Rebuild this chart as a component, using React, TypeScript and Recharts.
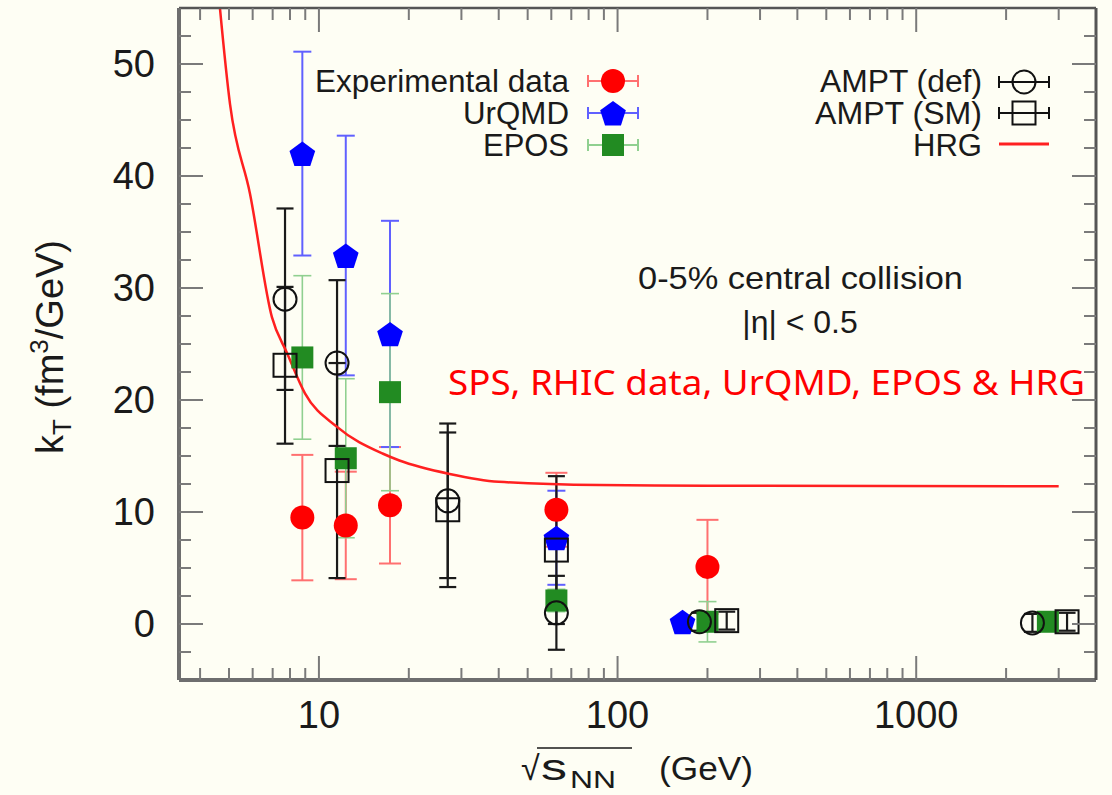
import React from 'react';
import { ComposedChart, XAxis, YAxis, Scatter, Line, ErrorBar } from 'recharts';

// ---------- data ----------
const expData = [
  { x: 8.8, y: 9.5, err: 5.6 },
  { x: 12.3, y: 8.8, err: 4.8 },
  { x: 17.3, y: 10.6, err: 5.2 },
  { x: 62.4, y: 10.2, err: 3.3 },
  { x: 200, y: 5.1, err: 4.2 },
];
const urqmdData = [
  { x: 8.8, y: 42.0, err: 9.1 },
  { x: 12.3, y: 32.9, err: 10.7 },
  { x: 17.3, y: 25.9, err: 10.1 },
  { x: 62.4, y: 7.7, err: 4.2 },
  { x: 165, y: 0.2, err: 0.3 },
];
const eposData = [
  { x: 8.8, y: 23.8, err: 7.3 },
  { x: 12.3, y: 14.8, err: 7.1 },
  { x: 17.3, y: 20.7, err: 8.8 },
  { x: 62.4, y: 2.1, err: 1.0 },
  { x: 200, y: 0.2, err: 1.8 },
  { x: 2760, y: 0.2, err: 0.3 },
];
const amptDefData = [
  { x: 7.7, y: 29.0, err: 8.1 },
  { x: 11.5, y: 23.3, err: 7.4 },
  { x: 27, y: 11.0, err: 6.9 },
  { x: 62.4, y: 1.0, err: 3.3 },
  { x: 188, y: 0.2, err: 0.8 },
  { x: 2450, y: 0.1, err: 0.8 },
];
const amptSmData = [
  { x: 7.7, y: 23.1, err: 7.0 },
  { x: 11.5, y: 13.7, err: 9.6 },
  { x: 27, y: 10.2, err: 6.9 },
  { x: 62.4, y: 6.6, err: 6.6 },
  { x: 232, y: 0.3, err: 0.8 },
  { x: 3200, y: 0.2, err: 0.8 },
];
const hrgData = [
  { x: 4.55, y: 58 },
  { x: 5.04, y: 46.4 },
  { x: 5.88, y: 38.4 },
  { x: 6.96, y: 27.4 },
  { x: 7.82, y: 24.2 },
  { x: 8.98, y: 20.6 },
  { x: 11.5, y: 17.6 },
  { x: 16.4, y: 15.2 },
  { x: 18.6, y: 14.6 },
  { x: 27.4, y: 13.4 },
  { x: 40, y: 12.7 },
  { x: 87, y: 12.4 },
  { x: 200, y: 12.35 },
  { x: 3000, y: 12.3 },
];

const xTicks = [4, 5, 6, 7, 8, 9, 10, 20, 30, 40, 50, 60, 70, 80, 90, 100, 200, 300, 400, 500, 600, 700, 800, 900, 1000, 2000, 3000];
const xMajor = [10, 100, 1000];
const yTicks = [-2.5, 0, 2.5, 5, 7.5, 10, 12.5, 15, 17.5, 20, 22.5, 25, 27.5, 30, 32.5, 35, 37.5, 40, 42.5, 45, 47.5, 50, 52.5];
const yMajor = [0, 10, 20, 30, 40, 50];

// ---------- styles ----------
const FONT = '"Liberation Sans", Arial, Helvetica, sans-serif';
const TXT = '#1a1a1a';
const TICK = '#7a7a7a';
const RED = '#ff0000';
const BLUE = '#0000ff';
const GREEN = '#228b22';

// ---------- marker shapes ----------
const RedDot = ({ cx, cy }: any) => <circle cx={cx} cy={cy} r={12} fill={RED} />;
const pentPts = (cx: number, cy: number, r: number) =>
  [0, 1, 2, 3, 4]
    .map((i) => {
      const a = (-90 + i * 72) * (Math.PI / 180);
      return `${cx + r * Math.cos(a)},${cy + r * Math.sin(a)}`;
    })
    .join(' ');
const BluePent = ({ cx, cy }: any) => <polygon points={pentPts(cx, cy + 1.5, 13.5)} fill={BLUE} />;
const GreenSq = ({ cx, cy }: any) => <rect x={cx - 11} y={cy - 11} width={22} height={22} fill={GREEN} />;
const OpenCircle = ({ cx, cy }: any) => (
  <circle cx={cx} cy={cy} r={11.5} fill="none" stroke="#111" strokeWidth={2} />
);
const OpenSquare = ({ cx, cy }: any) => (
  <rect x={cx - 11.5} y={cy - 11.5} width={23} height={23} fill="none" stroke="#111" strokeWidth={2} />
);

// ---------- ticks ----------
const LeftTick = (p: any) => {
  const v = p.payload.value;
  const major = yMajor.includes(v);
  return (
    <g>
      <line x1={p.x} x2={p.x + (major ? 24 : 12)} y1={p.y} y2={p.y} stroke={TICK} strokeWidth={2} />
      {major && (
        <text x={p.x - 24} y={p.y} textAnchor="end" dominantBaseline="central" fontSize={38} fontFamily={FONT} fill={TXT}>
          {v}
        </text>
      )}
    </g>
  );
};
const RightTick = (p: any) => {
  const major = yMajor.includes(p.payload.value);
  return <line x1={p.x} x2={p.x - (major ? 24 : 12)} y1={p.y} y2={p.y} stroke={TICK} strokeWidth={2} />;
};
const BottomTick = (p: any) => {
  const v = p.payload.value;
  const major = xMajor.includes(v);
  return (
    <g>
      <line x1={p.x} x2={p.x} y1={p.y} y2={p.y - (major ? 24 : 12)} stroke={TICK} strokeWidth={2} />
      {major && (
        <text x={p.x} y={p.y + 48} textAnchor="middle" fontSize={38} fontFamily={FONT} fill={TXT}>
          {v}
        </text>
      )}
    </g>
  );
};
const TopTick = (p: any) => {
  const major = xMajor.includes(p.payload.value);
  return <line x1={p.x} x2={p.x} y1={p.y} y2={p.y + (major ? 24 : 12)} stroke={TICK} strokeWidth={2} />;
};

// ---------- legend / annotations ----------
const Whisker = ({ x, y, color, w }: any) => (
  <g stroke={color} strokeWidth={w}>
    <line x1={x - 25} x2={x + 25} y1={y} y2={y} />
    <line x1={x - 25} x2={x - 25} y1={y - 6} y2={y + 6} />
    <line x1={x + 25} x2={x + 25} y1={y - 6} y2={y + 6} />
  </g>
);

const LegText = ({ x, y, len, children }: any) => (
  <text x={x} y={y} textAnchor="end" dominantBaseline="central" textLength={len} lengthAdjust="spacingAndGlyphs">
    {children}
  </text>
);

const Overlay = () => (
  <svg width={1112} height={795} style={{ position: 'absolute', left: 0, top: 0, pointerEvents: 'none' }}>
    <g fontFamily={FONT} fontSize={31} fill={TXT}>
      <LegText x={569} y={81} len={254}>Experimental data</LegText>
      <LegText x={569} y={113} len={106}>UrQMD</LegText>
      <LegText x={569} y={145} len={86}>EPOS</LegText>
      <LegText x={982} y={81} len={162}>AMPT (def)</LegText>
      <LegText x={982} y={113} len={167}>AMPT (SM)</LegText>
      <LegText x={982} y={145} len={69}>HRG</LegText>
    </g>
    <Whisker x={613} y={81} color="#ff7070" w={2} />
    <RedDot cx={613} cy={81} />
    <Whisker x={613} y={113} color="#6060ff" w={2} />
    <BluePent cx={613} cy={113} />
    <Whisker x={613} y={145} color="#90d090" w={2} />
    <GreenSq cx={613} cy={145} />
    <Whisker x={1024} y={82} color="#111" w={2} />
    <OpenCircle cx={1024} cy={82} />
    <Whisker x={1024} y={113} color="#111" w={2} />
    <OpenSquare cx={1024} cy={113} />
    <line x1={999} x2={1049} y1={144} y2={144} stroke="#ff2020" strokeWidth={3} />

    <g fontFamily={FONT} fontSize={32} fill={TXT}>
      <text x={638} y={289} textLength={325} lengthAdjust="spacingAndGlyphs">0-5% central collision</text>
      <text x={800} y={333} textAnchor="middle">|η| &lt; 0.5</text>
    </g>
    <text x={448} y={395} fontFamily='"Noto Sans", "Open Sans", sans-serif' fontSize={35} fill="#ff0000" textLength={637} lengthAdjust="spacingAndGlyphs">
      SPS, RHIC data, UrQMD, EPOS &amp; HRG
    </text>

    {/* y label */}
    <text transform="rotate(-90, 63, 347)" x={63} y={347} textAnchor="middle" fontFamily={FONT} fontSize={38} fill={TXT}>
      k<tspan fontSize={26} dy={8}>T</tspan>
      <tspan dy={-8}> (fm</tspan>
      <tspan fontSize={26} dy={-15}>3</tspan>
      <tspan dy={15}>/GeV)</tspan>
    </text>

    {/* x label */}
    <g fontFamily={FONT} fill={TXT}>
      <text x={521} y={780} fontSize={34}>√</text>
      <line x1={537} x2={632} y1={748} y2={748} stroke={TXT} strokeWidth={1.5} />
      <text x={541} y={780} fontSize={36} textLength={26} lengthAdjust="spacingAndGlyphs">s</text>
      <text x={570} y={788} fontSize={24} textLength={46} lengthAdjust="spacingAndGlyphs">NN</text>
      <text x={659} y={780} fontSize={34} textLength={94} lengthAdjust="spacingAndGlyphs">(GeV)</text>
    </g>
  </svg>
);

export default function App() {
  return (
    <div style={{ position: 'absolute', left: 0, top: 0, width: 1112, height: 795, background: '#fefef4', overflow: 'hidden' }}>
      <ComposedChart width={1112} height={795} margin={{ top: 7, right: 15, bottom: 0, left: 0 }}>
        <XAxis
          xAxisId={0}
          dataKey="x"
          type="number"
          scale="log"
          domain={[3.4, 4000]}
          allowDataOverflow
          ticks={xTicks}
          interval={0}
          height={115}
          tickSize={0}
          tickMargin={0}
          tickLine={false}
          tick={BottomTick}
          axisLine={{ stroke: '#6e6e6e', strokeWidth: 4 }}
        />
        <XAxis
          xAxisId="top"
          orientation="top"
          dataKey="x"
          type="number"
          scale="log"
          domain={[3.4, 4000]}
          allowDataOverflow
          ticks={xTicks}
          interval={0}
          height={1}
          tickSize={0}
          tickMargin={0}
          tickLine={false}
          tick={TopTick}
          axisLine={{ stroke: '#555', strokeWidth: 2.5 }}
        />
        <YAxis
          yAxisId={0}
          dataKey="y"
          type="number"
          domain={[-5, 55]}
          allowDataOverflow
          ticks={yTicks}
          interval={0}
          width={179}
          tickSize={0}
          tickMargin={0}
          tickLine={false}
          tick={LeftTick}
          axisLine={{ stroke: '#6e6e6e', strokeWidth: 4 }}
        />
        <YAxis
          yAxisId="right"
          orientation="right"
          dataKey="y"
          type="number"
          domain={[-5, 55]}
          allowDataOverflow
          ticks={yTicks}
          interval={0}
          width={1}
          tickSize={0}
          tickMargin={0}
          tickLine={false}
          tick={RightTick}
          axisLine={{ stroke: '#555', strokeWidth: 3 }}
        />

        <Scatter data={expData} dataKey="y" shape={RedDot} isAnimationActive={false}>
          <ErrorBar dataKey="err" direction="y" width={11} stroke="#ff7070" strokeWidth={2} />
        </Scatter>
        <Scatter data={urqmdData} dataKey="y" shape={BluePent} isAnimationActive={false}>
          <ErrorBar dataKey="err" direction="y" width={9} stroke="#6060ff" strokeWidth={2} />
        </Scatter>
        <Scatter data={eposData} dataKey="y" shape={GreenSq} isAnimationActive={false}>
          <ErrorBar dataKey="err" direction="y" width={9} stroke="#90d090" strokeWidth={1.6} />
        </Scatter>
        <Scatter data={amptDefData} dataKey="y" shape={OpenCircle} isAnimationActive={false}>
          <ErrorBar dataKey="err" direction="y" width={8.5} stroke="#1a1a1a" strokeWidth={2.2} />
        </Scatter>
        <Scatter data={amptSmData} dataKey="y" shape={OpenSquare} isAnimationActive={false}>
          <ErrorBar dataKey="err" direction="y" width={8.5} stroke="#1a1a1a" strokeWidth={2.2} />
        </Scatter>
        <Line
          data={hrgData}
          dataKey="y"
          type="monotone"
          stroke="#ff2020"
          strokeWidth={2.5}
          dot={false}
          activeDot={false}
          isAnimationActive={false}
        />
      </ComposedChart>
      <Overlay />
    </div>
  );
}
